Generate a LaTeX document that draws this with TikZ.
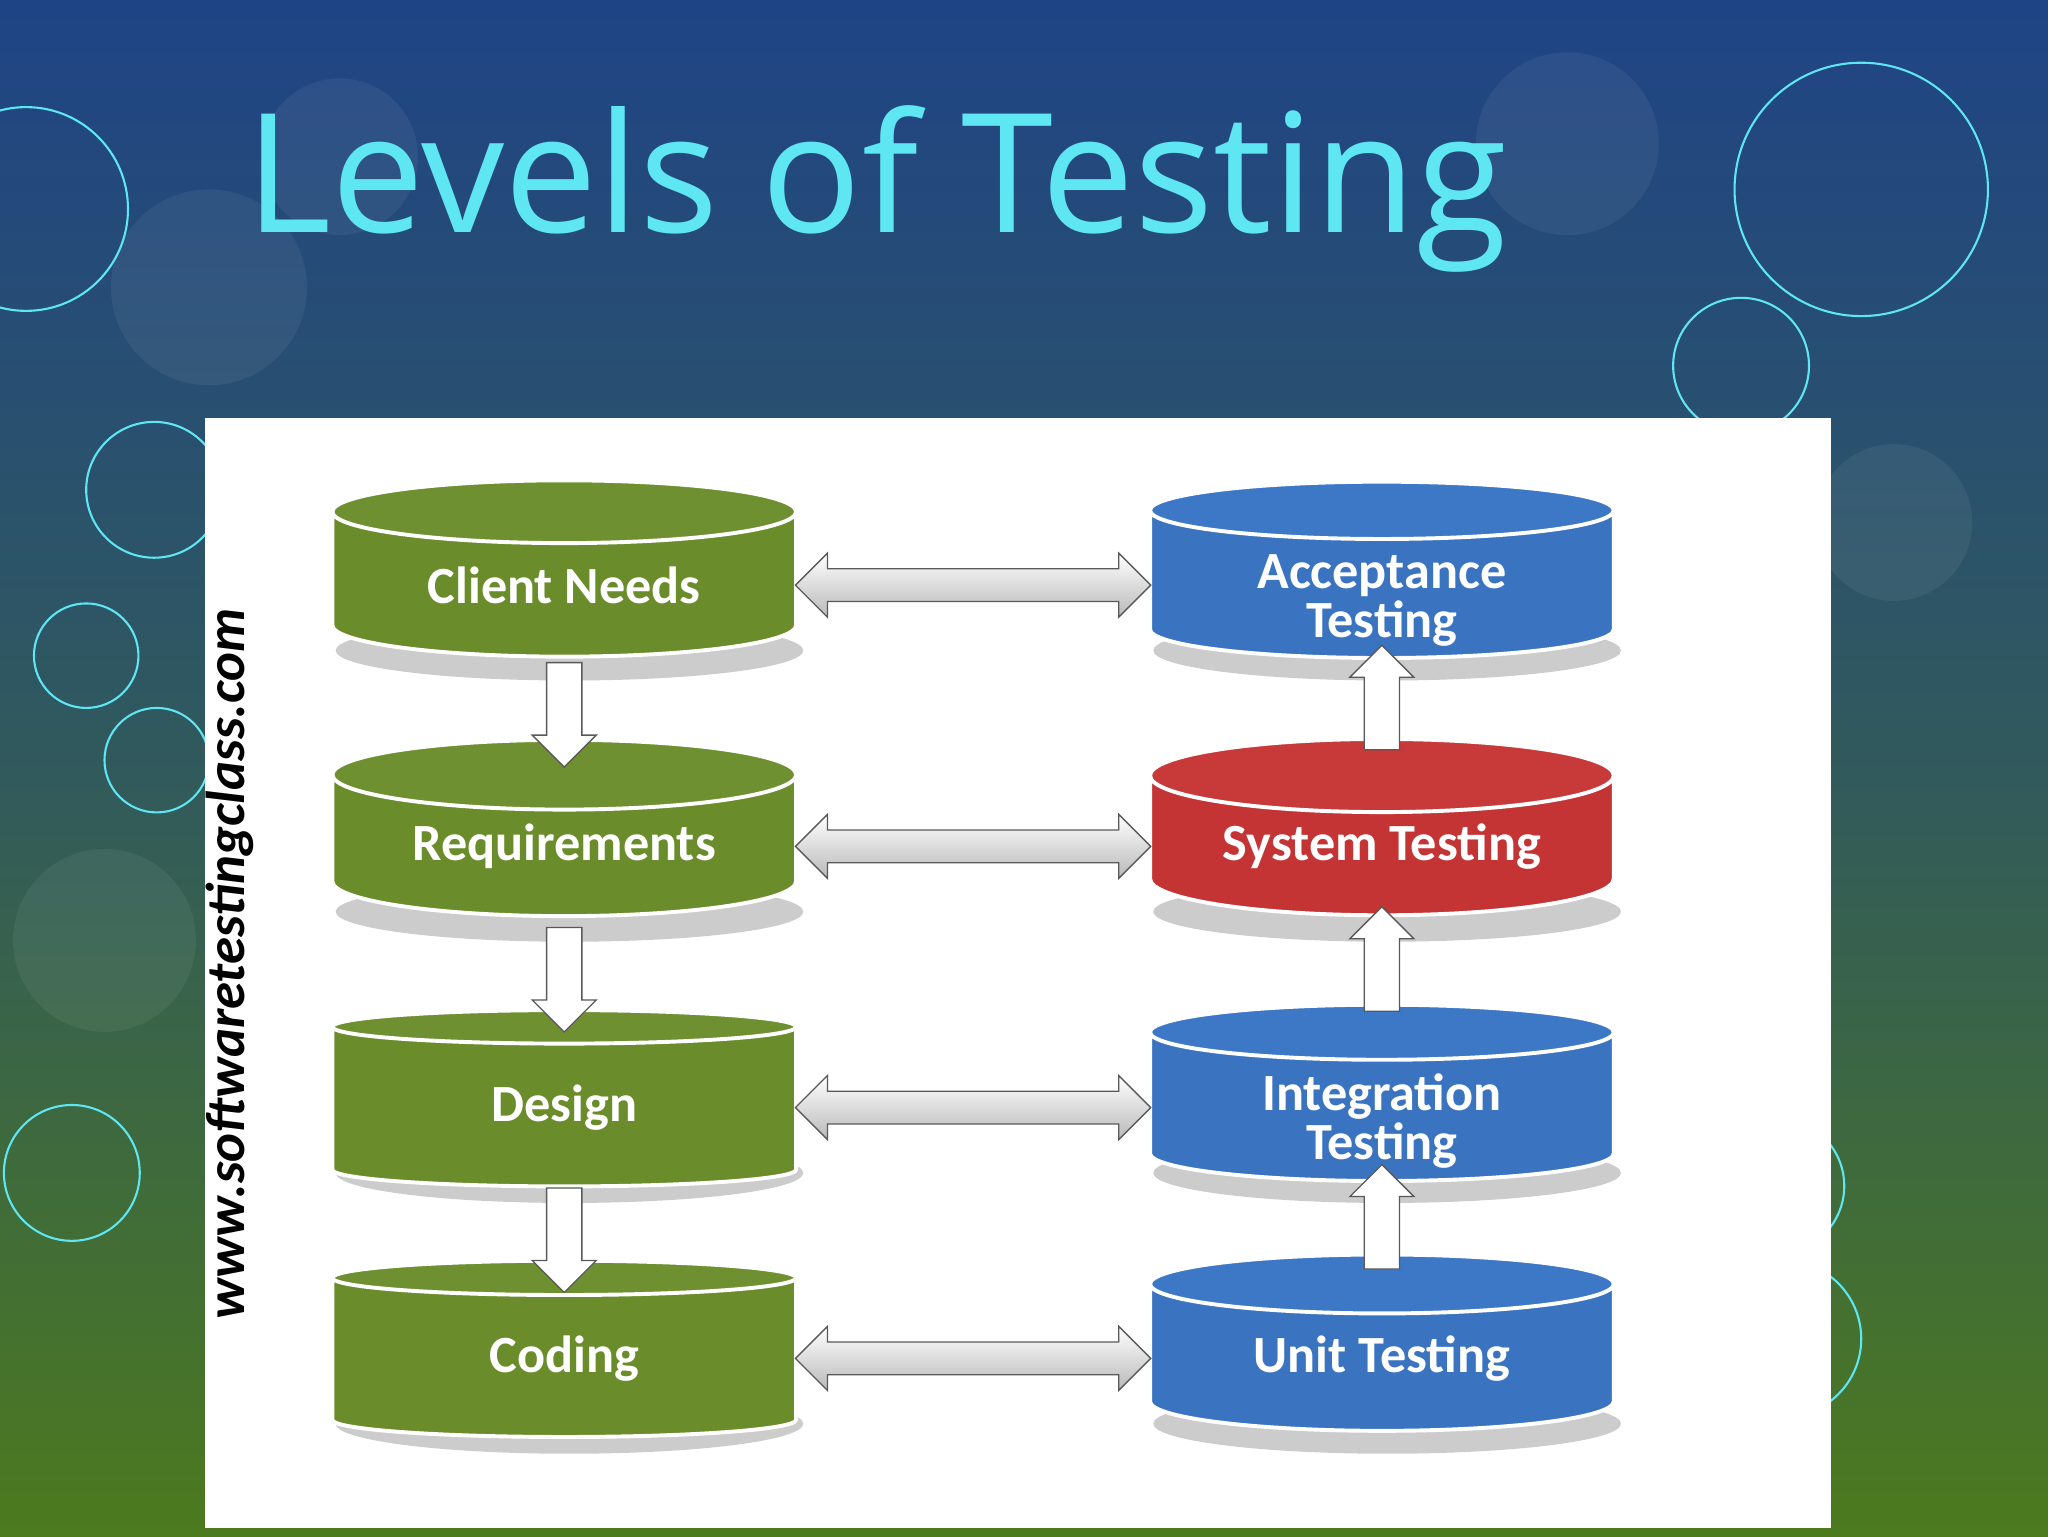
\documentclass[tikz,border=0pt]{standalone}
\usepackage{fontspec}
\setmainfont{Carlito}
\newfontfamily\titlefont{Open Sans}
\usetikzlibrary{shapes.geometric,shapes.arrows,calc}
\definecolor{bgtop}{HTML}{1F4486}
\definecolor{bgbot}{HTML}{4C7A1E}
\definecolor{cyanc}{HTML}{5EE6F2}
\definecolor{gbody}{HTML}{6A8C2A}
\definecolor{gtop}{HTML}{6F9030}
\definecolor{bbody}{HTML}{3A74C0}
\definecolor{btop}{HTML}{3C78C6}
\definecolor{rbody}{HTML}{C43434}
\definecolor{rtop}{HTML}{C83A3A}
\begin{document}
\begin{tikzpicture}[x=1pt,y=-1pt,
 ring/.style={draw=cyanc,line width=1.6pt},
 cylbase/.style={cylinder,shape border rotate=90,aspect=0.23,minimum width=355pt,minimum height=135pt,inner sep=0pt,cylinder uses custom fill},
 cyl/.style={cylbase,draw=white,line width=3pt,text=white,
   font=\bfseries\fontsize{40}{38}\selectfont,align=center},
 gcyl/.style={cyl,cylinder body fill=gbody,cylinder end fill=gtop},
 bcyl/.style={cyl,cylinder body fill=bbody,cylinder end fill=btop},
 rcyl/.style={cyl,cylinder body fill=rbody,cylinder end fill=rtop},
 harrow/.style={double arrow,draw=gray!70!black,line width=1pt,top color=white,bottom color=gray!55,
   inner xsep=0pt,inner ysep=12pt,double arrow head extend=12pt,minimum height=272pt},
 varrow/.style={single arrow,draw=gray!70!black,line width=1pt,fill=white,
   inner xsep=0pt,inner ysep=13pt,single arrow head extend=11pt,minimum height=80pt}]
\useasboundingbox (0,0) rectangle (1568,1176);
\shade[top color=bgtop,bottom color=bgbot,middle color=bgtop!60!bgbot] (0,0) rectangle (1568,1176);
\fill[white,opacity=0.06] (160,220) circle (75) (260,120) circle (60) (1200,110) circle (70) (1450,400) circle (60) (80,720) circle (70);
\draw[ring] (20,160) circle (78);
\draw[ring] (118,375) circle (52);
\draw[ring] (66,502) circle (40);
\draw[ring] (120,582) circle (40);
\draw[ring] (55,898) circle (52);
\draw[ring] (1425,145) circle (97);
\draw[ring] (1333,280) circle (52);
\draw[ring] (1360,908) circle (52);
\draw[ring] (1365,1025) circle (60);
\node[anchor=base west,text=cyanc,font=\titlefont\fontsize{127}{127}\selectfont,inner sep=0pt] (title) at (188,178) {Levels of Testing};
\fill[white] (157,320) rectangle (1402,1170);
\node[rotate=90,font=\bfseries\itshape\fontsize{42}{42}\selectfont,inner sep=0pt] (url) at (176,738) {www.softwaretestingclass.com};
\foreach \x/\y in {432/448,432/648,432/848,432/1040,1058/448,1058/648,1058/848,1058/1040}
  \fill[gray!40] (\x+4,\y+50) ellipse (179 and 23);
\node[gcyl] (cn) at (432,448) {Client Needs};
\node[gcyl] (rq) at (432,648) {Requirements};
\node[gcyl] (ds) at (432,848) {Design};
\node[gcyl] (cd) at (432,1040) {Coding};
\node[bcyl] (at) at (1058,448) {\raisebox{-40pt}[0pt][0pt]{\shortstack{Acceptance\\Testing}}};
\node[rcyl] (st) at (1058,648) {System Testing};
\node[bcyl] (it) at (1058,848) {\raisebox{-40pt}[0pt][0pt]{\shortstack{Integration\\Testing}}};
\node[bcyl] (ut) at (1058,1040) {Unit Testing};
\foreach \a/\b in {cn/at,rq/st,ds/it,cd/ut}{
  \node[harrow] (h\a) at ($(\a.east)!0.5!(\b.west)$) {};
}
\foreach \a/\b in {cn/rq,rq/ds,ds/cd}{
  \node[varrow,rotate=-90] (v\a) at ($(\a.south)!0.5!(\b.north)+(0,6)$) {};
}
\foreach \a/\b in {ut/it,it/st,st/at}{
  \node[varrow,rotate=90] (v\a) at ($(\a.north)!0.5!(\b.south)+(0,6)$) {};
}
\end{tikzpicture}
\end{document}
